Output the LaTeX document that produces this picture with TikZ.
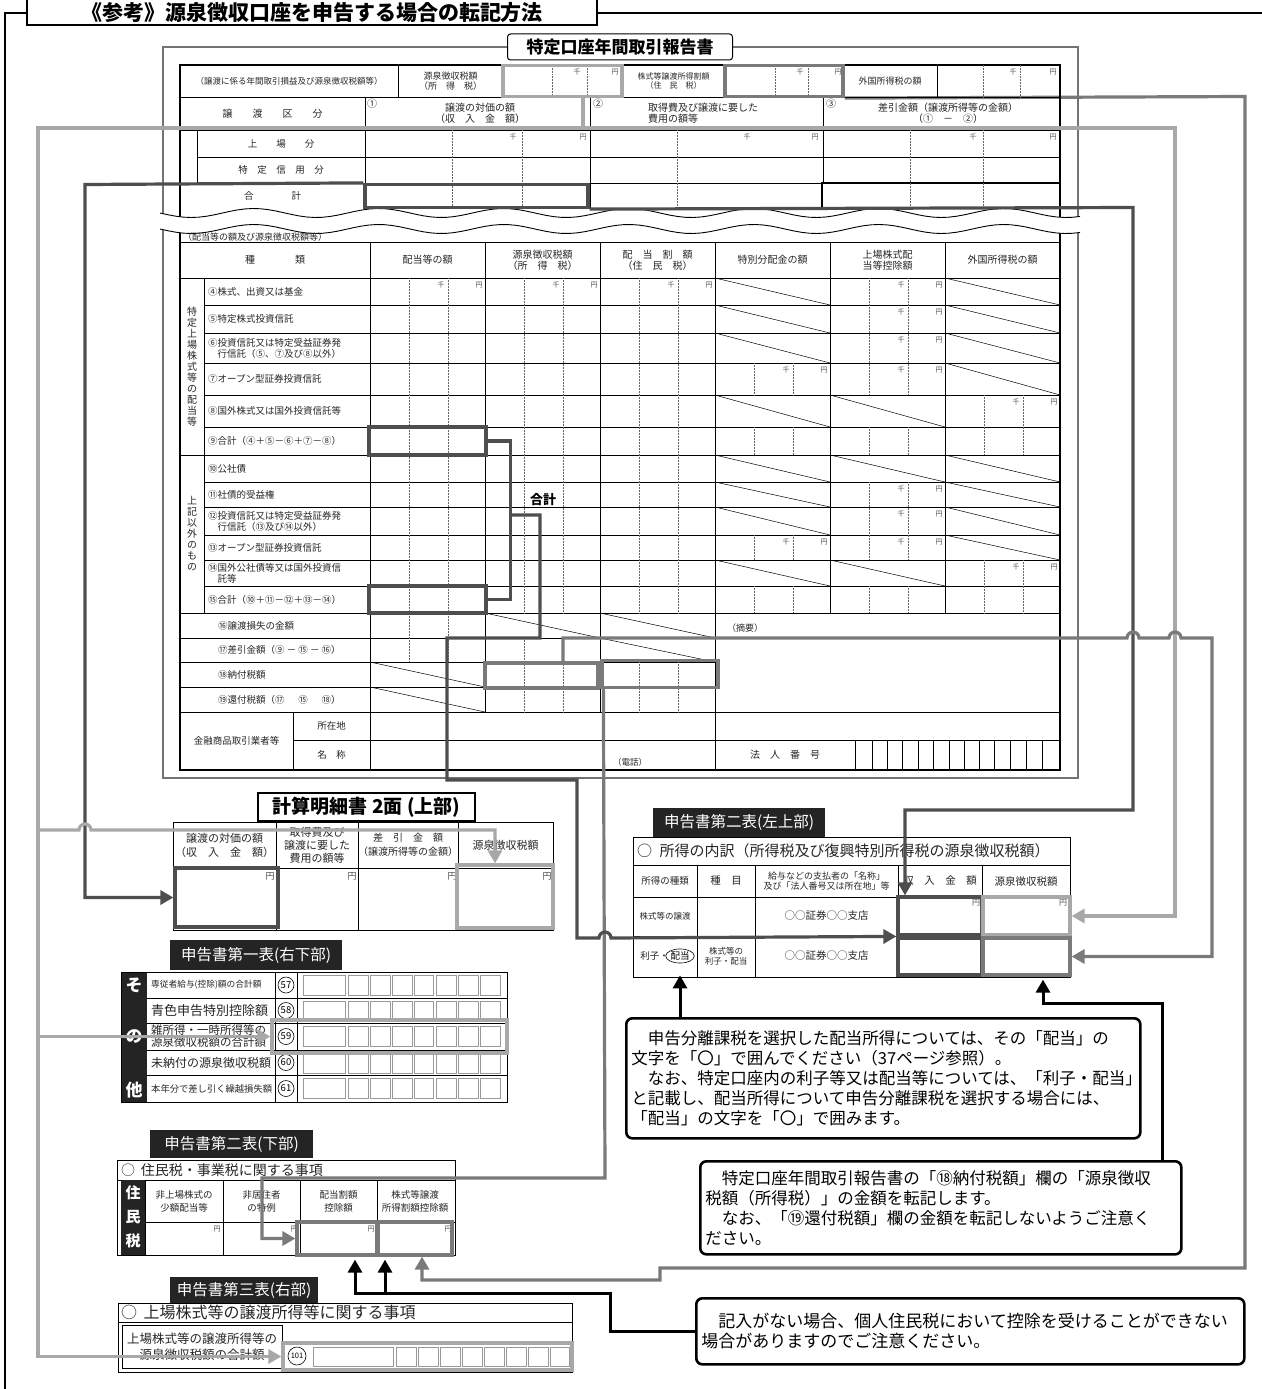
\documentclass[tikz,border=0pt]{standalone}
\usepackage{fontspec}
\setmainfont{Noto Sans CJK JP}
\usepackage{tikz}
\usetikzlibrary{arrows.meta, shapes.geometric, backgrounds}
\definecolor{darkhl}{RGB}{78,78,78}
\definecolor{midhl}{RGB}{122,122,122}
\definecolor{lighthl}{RGB}{168,168,168}
\definecolor{tabfill}{RGB}{36,36,36}
\newcommand{\jsz}[2]{\fontsize{#1}{#2}\selectfont}

\begin{document}
\begin{tikzpicture}[
    x=1pt, y=-1pt,
    font=\jsz{9.5}{11},
    formthick/.style={line width=1.6pt},
    formrule/.style={line width=0.9pt},
    thinrule/.style={line width=0.5pt},
    dotrule/.style={line width=0.5pt, densely dotted, black!60},
    hlbox/.style={draw=#1, line width=3.2pt, inner sep=0pt},
    conn/.style={draw=#1, line width=3.2pt},
    blackline/.style={draw=black, line width=3pt},
    arrowed/.style={-{Triangle[length=13pt, width=14pt]}},
    lbl/.style={inner sep=0pt, align=center, text=black!85},
    kenmark/.style={inner sep=0pt, font=\jsz{7}{7}, text=black!70},
    circnum/.style={circle, draw, line width=0.6pt, inner sep=0pt, minimum size=16pt, font=\jsz{9.5}{9.5}},
    tabbox/.style={fill=tabfill, text=white, inner sep=0pt, font=\jsz{15.5}{16}},
    digitbox/.style={draw=black!40, line width=0.8pt},
    notebox/.style={draw, line width=2.6pt, rounded corners=6pt, align=left, inner sep=5pt, font=\jsz{16.5}{20}}
  ]
  \useasboundingbox (0,0) rectangle (1261,1389);

  % page frame and heading
  \draw[line width=1.4pt] (27,-2) rectangle (597,25);
  \node[font=\bfseries\jsz{21}{21}, inner sep=0pt] (title) at (312,13) {《参考》源泉徴収口座を申告する場合の転記方法};
  \draw[line width=1.1pt] (5,1395) -- (5,13) -- (27,13);
  \draw[line width=1.1pt] (597,13) -- (1265,13);

  % report frame
  \draw[line width=1.1pt, black!55] (163,47) rectangle (1078,778);

  % upper block of the report
  \draw[formthick] (180,65) rectangle (1060,770);
  \foreach \yy in {97,130,183} \draw[formrule] (180,\yy) -- (1060,\yy);
  \draw[formrule] (197,157) -- (1060,157);
  \draw[formrule] (197,130) -- (197,183);
  \foreach \xx in {398,503,622,725,843,937} \draw[formrule] (\xx,65) -- (\xx,97);
  \foreach \xx in {365,590} \draw[formrule] (\xx,97) -- (\xx,208);
  \draw[formrule] (823,97) -- (823,183);
  \draw[formthick] (822,208) -- (822,183) -- (1060,183);
  \foreach \xx in {552,587,775,808,983,1020} \draw[dotrule] (\xx,65) -- (\xx,97);
  \foreach \xx in {452,522,677,910,983} \draw[dotrule] (\xx,130) -- (\xx,208);
  \foreach \kx/\ex/\ry in {577/615/72, 800/838/72, 1013/1053/72, 513/583/137, 747/815/137, 973/1053/137}
    {\node[kenmark] at (\kx,\ry) {千}; \node[kenmark] at (\ex,\ry) {円};}

  \node[lbl, font=\jsz{8.5}{9}] at (289,81) {（譲渡に係る年間取引損益及び源泉徴収税額等）};
  \node[lbl, font=\jsz{9}{10}] at (450.5,81) {源泉徴収税額\\（所　得　税）};
  \node[lbl, font=\jsz{8}{9}] at (673.5,81) {株式等譲渡所得割額\\（住　民　税）};
  \node[lbl, font=\jsz{9}{10}] at (890,81) {外国所得税の額};
  \node[lbl, font=\jsz{10}{10}] at (272.5,113.5) {譲　　渡　　区　　分};
  \node[lbl, font=\jsz{10}{10}] at (372,104) {①};
  \node[lbl, font=\jsz{10}{11}] at (480,113.5) {譲渡の対価の額\\（収　入　金　額）};
  \node[lbl, font=\jsz{10}{10}] at (598,104) {②};
  \node[lbl, font=\jsz{10}{11}, anchor=west, align=left] at (648,113.5) {取得費及び譲渡に要した\\費用の額等};
  \node[lbl, font=\jsz{10}{10}] at (831,104) {③};
  \node[lbl, font=\jsz{10}{11}] at (948,113.5) {差引金額（譲渡所得等の金額）\\（①　－　②）};
  \node[lbl] at (281,143.5) {上　　場　　分};
  \node[lbl] at (281,170) {特　定　信　用　分};
  \node[lbl] at (272.5,196) {合　　　　計};

  % break in the form
  \fill[white] plot[domain=160:1080, samples=120] (\x,{213+4.5*sin(2.88*(\x-160))})
    -- plot[domain=1080:160, samples=120] (\x,{229+4.5*sin(2.88*(\x-160))}) -- cycle;
  \draw[formrule] plot[domain=160:1080, samples=120] (\x,{213+4.5*sin(2.88*(\x-160))});
  \draw[formrule] plot[domain=160:1080, samples=120] (\x,{229+4.5*sin(2.88*(\x-160))});
  \node[lbl, anchor=west, font=\jsz{9}{9}] at (183,237) {（配当等の額及び源泉徴収税額等）};

  % lower block of the report
  \foreach \yy in {242,278,455,613,712} \draw[formrule] (180,\yy) -- (1060,\yy);
  \foreach \yy in {305,333,363,395,427,482,507,535,560,586} \draw[formrule] (204,\yy) -- (1060,\yy);
  \foreach \yy in {638,662,687} \draw[formrule] (180,\yy) -- (715,\yy);
  \draw[formrule] (293,740) -- (1060,740);
  \draw[formrule] (204,278) -- (204,613);
  \foreach \xx in {370,715} \draw[formrule] (\xx,242) -- (\xx,770);
  \foreach \xx in {485,600} \draw[formrule] (\xx,242) -- (\xx,712);
  \foreach \xx in {830,945} \draw[formrule] (\xx,242) -- (\xx,613);
  \draw[formrule] (293,712) -- (293,770);
  \foreach \xx in {855,872,933,994} \draw[formrule] (\xx,740) -- (\xx,770);
  \foreach \xx in {887,902,918,949,964,979,1010,1026,1042} \draw[thinrule] (\xx,740) -- (\xx,770);

  % value cells (digit guides)
  \foreach \cx/\ya/\yb in {370/278/662, 485/278/613, 485/638/712, 600/278/613, 600/662/712,
      715/363/395, 715/427/455, 715/535/560, 715/586/613,
      830/278/395, 830/427/455, 830/482/560, 830/586/613,
      945/395/455, 945/560/613}
    {\draw[dotrule] (\cx+39,\ya) -- (\cx+39,\yb);
     \draw[dotrule] (\cx+78,\ya) -- (\cx+78,\yb);}
  % struck cells
  \foreach \cx/\ya/\yb in {715/278/305, 715/305/333, 715/333/363, 715/395/427, 715/455/482, 715/482/507,
      715/507/535, 715/560/586, 830/395/427, 830/455/482, 830/560/586,
      945/278/305, 945/305/333, 945/333/363, 945/363/395, 945/455/482, 945/482/507, 945/507/535, 945/535/560,
      485/613/638, 600/613/638, 600/638/662, 370/662/687, 370/687/712}
    \draw[thinrule] (\cx,\ya) -- (\cx+115,\yb);
  \foreach \cx/\ry in {370/278, 485/278, 600/278, 715/363, 715/535, 830/278, 830/305, 830/333,
      830/363, 830/482, 830/507, 830/535, 945/395, 945/560}
    {\node[kenmark] at (\cx+71,\ry+7) {千};
     \node[kenmark] at (\cx+109,\ry+7) {円};}

  \node[lbl, font=\jsz{10}{12}] at (275,260) {種　　　　類};
  \node[lbl, font=\jsz{10}{12}] at (427.5,260) {配当等の額};
  \node[lbl, font=\jsz{10}{11}] at (542.5,260) {源泉徴収税額\\（所　得　税）};
  \node[lbl, font=\jsz{10}{11}] at (657.5,260) {配　当　割　額\\（住　民　税）};
  \node[lbl, font=\jsz{10}{12}] at (772.5,260) {特別分配金の額};
  \node[lbl, font=\jsz{10}{11}] at (887.5,260) {上場株式配\\当等控除額};
  \node[lbl, font=\jsz{10}{12}] at (1002.5,260) {外国所得税の額};
  \node[lbl, font=\jsz{10}{11}] at (192,366.5) {特\\定\\上\\場\\株\\式\\等\\の\\配\\当\\等};
  \node[lbl, font=\jsz{10}{11}] at (192,534) {上\\記\\以\\外\\の\\も\\の};
  \foreach \lab/\yy in {④株式、出資又は基金/291.5, ⑤特定株式投資信託/319, ⑦オープン型証券投資信託/379,
      ⑧国外株式又は国外投資信託等/411, ⑨合計（④＋⑤－⑥＋⑦－⑧）/441, ⑩公社債/468.5,
      ⑪社債的受益権/494.5, ⑬オープン型証券投資信託/547.5, ⑮合計（⑩＋⑪－⑫＋⑬－⑭）/599.5}
    \node[lbl, anchor=west] at (208,\yy) {\lab};
  \node[lbl, anchor=west, align=left] at (208,348) {⑥投資信託又は特定受益証券発\\　行信託（⑤、⑦及び⑧以外）};
  \node[lbl, anchor=west, align=left] at (208,521) {⑫投資信託又は特定受益証券発\\　行信託（⑬及び⑭以外）};
  \node[lbl, anchor=west, align=left] at (208,573) {⑭国外公社債等又は国外投資信\\　託等};
  \node[lbl, anchor=west] at (218,625.5) {⑯譲渡損失の金額};
  \node[lbl, anchor=west] at (218,650) {⑰差引金額（⑨ － ⑮ － ⑯）};
  \node[lbl, anchor=west] at (218,674.5) {⑱納付税額};
  \node[lbl, anchor=west] at (218,699.5) {⑲還付税額（⑰ 　 ⑮ 　 ⑱）};
  \node[lbl] at (236.5,741) {金融商品取引業者等};
  \node[lbl] at (331.5,726) {所在地};
  \node[lbl] at (331.5,755) {名　称};
  \node[lbl, font=\jsz{8.5}{9}] at (630,762) {（電話）};
  \node[lbl, font=\jsz{10}{10}] at (785,755) {法　人　番　号};
  \node[lbl, font=\jsz{9}{9}] at (745,628) {（摘要）};

  % report title
  \node[draw, line width=1pt, rounded corners=3pt, fill=white, minimum width=225pt, minimum height=26pt,
        font=\bfseries\jsz{17}{17}] (formtitle) at (620,47) {特定口座年間取引報告書};

  % marked cells in the report
  \node[hlbox=lighthl, minimum width=119pt, minimum height=31pt] (srcTax) at (562.5,81) {};
  \node[hlbox=midhl, minimum width=118pt, minimum height=31pt] (resTax) at (784,81) {};
  \node[hlbox=darkhl, minimum width=223pt, minimum height=23pt] (sumOne) at (476.5,196) {};
  \node[hlbox=darkhl, minimum width=117pt, minimum height=28pt] (nine) at (427.5,441) {};
  \node[hlbox=darkhl, minimum width=117pt, minimum height=27pt] (fifteen) at (427.5,599.5) {};
  \node[hlbox=midhl, minimum width=113pt, minimum height=25pt] (eighteenSrc) at (541.5,675.5) {};
  \node[hlbox=midhl, minimum width=116pt, minimum height=27pt] (eighteenRes) at (660,674) {};
  \node[font=\bfseries\jsz{13}{13}] (goukei) at (543,500) {合計};

  % keisan meisaisho
  \node[draw, line width=1.3pt, fill=white, minimum width=217pt, minimum height=28pt,
        font=\bfseries\jsz{19}{19}] (ktitle) at (366.5,807) {計算明細書 2面 (上部)};
  \draw[formrule] (173,822) rectangle (553,930);
  \draw[formrule] (173,868) -- (553,868);
  \foreach \xx in {276,358,458} \draw[formrule] (\xx,822) -- (\xx,930);
  \node[lbl, font=\jsz{11}{14}] at (224.5,845) {譲渡の対価の額\\（収　入　金　額）};
  \node[lbl, font=\jsz{11}{13}] at (317,845) {取得費及び\\譲渡に要した\\費用の額等};
  \node[lbl, font=\jsz{10}{14}] at (408,845) {差　引　金　額\\（譲渡所得等の金額）};
  \node[lbl, font=\jsz{11}{13}] at (505.5,845) {源泉徴収税額};
  \foreach \xx in {270,352,452,547} \node[kenmark, font=\jsz{9}{9}] at (\xx,876) {円};
  \node[hlbox=darkhl, minimum width=103pt, minimum height=59pt] (kcol1) at (226.5,897.5) {};
  \node[hlbox=lighthl, minimum width=96pt, minimum height=63pt] (kcol4) at (505,896.5) {};

  % shinkokusho daiippyo
  \node[tabbox, minimum width=172pt, minimum height=30pt] (tab1) at (256,955) {申告書第一表(右下部)};
  \fill[tabfill] (121,972) rectangle (147,1102);
  \draw[formrule] (121,972) rectangle (507,1102);
  \foreach \yy in {998,1023,1050,1075} \draw[formrule] (147,\yy) -- (507,\yy);
  \foreach \xx in {275,297} \draw[formrule] (\xx,972) -- (\xx,1102);
  \foreach \ch/\yy in {そ/985,の/1037,他/1090} \node[text=white, font=\bfseries\jsz{17}{17}] at (134,\yy) {\ch};
  \node[lbl, anchor=west, font=\jsz{8.7}{9}] at (151,985) {専従者給与(控除)額の合計額};
  \node[lbl, anchor=west, font=\jsz{13}{13}] at (151,1010.5) {青色申告特別控除額};
  \node[lbl, anchor=west, align=left, font=\jsz{11.5}{12}] at (151,1036.5) {雑所得・一時所得等の\\源泉徴収税額の合計額};
  \node[lbl, anchor=west, font=\jsz{12}{12}] at (151,1062.5) {未納付の源泉徴収税額};
  \node[lbl, anchor=west, font=\jsz{9.3}{10}] at (151,1088.5) {本年分で差し引く繰越損失額};
  \foreach \n/\yy in {57/985, 58/1010.5, 59/1036.5, 60/1062.5, 61/1088.5}
    \node[circnum] at (286,\yy) {\n};
  \foreach \ry in {972,998,1023,1050,1075}
    \foreach \bx/\bw in {303/42,348/20,370/20,392/20,414/19,436/20,458/20,480/20}
      \draw[digitbox] (\bx,\ry+3) rectangle ++(\bw,20);
  \node[hlbox=lighthl, minimum width=235pt, minimum height=33pt] (ichiBox) at (389.5,1036.5) {};

  % shinkokusho dainihyo, upper left
  \node[tabbox, minimum width=172pt, minimum height=29pt] (tab2a) at (739,822.5) {申告書第二表(左上部)};
  \draw[formrule] (633,837) rectangle (1070,977);
  \foreach \yy in {865,897,936} \draw[formrule] (633,\yy) -- (1070,\yy);
  \foreach \xx in {697,755,898,982} \draw[formrule] (\xx,865) -- (\xx,977);
  \node[lbl, anchor=west, font=\jsz{15}{15}] at (637,851) {○\hspace{0.5em}所得の内訳（所得税及び復興特別所得税の源泉徴収税額）};
  \node[lbl, font=\jsz{9.5}{10}] at (665,881) {所得の種類};
  \node[lbl, font=\jsz{10.5}{11}] at (726,881) {種　目};
  \node[lbl, font=\jsz{9}{10}] at (826.5,881) {給与などの支払者の「名称」\\及び「法人番号又は所在地」等};
  \node[lbl, font=\jsz{10.5}{11}] at (940,881) {収　入　金　額};
  \node[lbl, font=\jsz{10.5}{11}] at (1026,881) {源泉徴収税額};
  \node[lbl, font=\jsz{8.5}{9}] at (665,916) {株式等の譲渡};
  \node[lbl, font=\jsz{10.5}{11}] at (826.5,916) {○○証券○○支店};
  \node[lbl, font=\jsz{9.5}{10}, anchor=east] at (669,956) {利子・};
  \node[ellipse, draw, line width=0.6pt, inner sep=0.6pt, font=\jsz{9.5}{10}] (haitoCirc) at (680,956) {配当};
  \node[lbl, font=\jsz{8.5}{10}] at (726,956) {株式等の\\利子・配当};
  \node[lbl, font=\jsz{10.5}{11}] at (826.5,956) {○○証券○○支店};
  \node[kenmark, font=\jsz{8}{8}] at (976,903) {円};
  \node[kenmark, font=\jsz{8}{8}] at (1063,903) {円};
  \node[hlbox=darkhl, minimum width=84pt, minimum height=38pt] (inc1) at (940,916) {};
  \node[hlbox=darkhl, minimum width=84pt, minimum height=37pt] (inc2) at (940,956.5) {};
  \node[hlbox=lighthl, minimum width=87pt, minimum height=38pt] (src1) at (1026.5,916) {};
  \node[hlbox=midhl, minimum width=87pt, minimum height=37pt] (src2) at (1026.5,956.5) {};

  % shinkokusho dainihyo, lower part
  \node[tabbox, minimum width=163pt, minimum height=28pt] (tab2b) at (231.5,1144) {申告書第二表(下部)};
  \draw[formrule] (117,1160) rectangle (455,1255);
  \draw[formrule] (117,1180) -- (455,1180);
  \draw[formrule] (145,1222) -- (455,1222);
  \fill[tabfill] (121,1180) rectangle (145,1255);
  \foreach \xx in {145,223,300,377} \draw[formrule] (\xx,1180) -- (\xx,1255);
  \foreach \ch/\yy in {住/1193,民/1217,税/1241} \node[text=white, font=\bfseries\jsz{15}{15}] at (133,\yy) {\ch};
  \node[lbl, anchor=west, font=\jsz{14}{14}] at (121,1170) {○\hspace{0.4em}住民税・事業税に関する事項};
  \node[lbl, font=\jsz{9.5}{13}] at (184,1201) {非上場株式の\\少額配当等};
  \node[lbl, font=\jsz{9.5}{13}] at (261.5,1201) {非居住者\\の特例};
  \node[lbl, font=\jsz{9.5}{13}] at (338.5,1201) {配当割額\\控除額};
  \node[lbl, font=\jsz{9.5}{13}] at (415,1201) {株式等譲渡\\所得割額控除額};
  \foreach \xx in {217,294,371,448} \node[kenmark] at (\xx,1229) {円};
  \node[hlbox=midhl, minimum width=80pt, minimum height=33pt] (haitoKojo) at (337,1238.5) {};
  \node[hlbox=midhl, minimum width=74pt, minimum height=33pt] (kabuKojo) at (415,1238.5) {};

  % shinkokusho daisanhyo
  \node[tabbox, minimum width=148pt, minimum height=26pt] (tab3) at (244,1290) {申告書第三表(右部)};
  \draw[formrule] (118,1303) rectangle (572,1372);
  \draw[formrule] (118,1322) -- (572,1322);
  \draw[formrule] (122,1325) rectangle (282,1368);
  \node[lbl, anchor=west, font=\jsz{16}{16}] at (121,1312.5) {○\hspace{0.4em}上場株式等の譲渡所得等に関する事項};
  \node[lbl, font=\jsz{12.5}{16}] at (202,1346.5) {上場株式等の譲渡所得等の\\源泉徴収税額の合計額};
  \node[circnum, minimum size=18pt, font=\jsz{7.5}{7.5}] at (297,1356) {101};
  \foreach \bx/\bw in {313/80,396/20,418/20,440/20,462/20,484/20,506/20,528/20,550/19}
    \draw[digitbox] (\bx,1347) rectangle ++(\bw,19);
  \node[hlbox=lighthl, minimum width=289pt, minimum height=27pt] (sanBox) at (427.5,1356.5) {};

  % notes
  \node[notebox, anchor=north west, text width=504pt, minimum height=120pt] (note1) at (625,1017)
  {　申告分離課税を選択した配当所得については、その「配当」の\\
   文字を「〇」で囲んでください（37ページ参照）。\\
   　なお、特定口座内の利子等又は配当等については、「利子・配当」\\
   と記載し、配当所得について申告分離課税を選択する場合には、\\
   「配当」の文字を「〇」で囲みます。};
  \node[notebox, anchor=north west, text width=471pt, minimum height=93pt] (note2) at (699,1160)
  {　特定口座年間取引報告書の「⑱納付税額」欄の「源泉徴収\\
   税額（所得税）」の金額を転記します。\\
   　なお、「⑲還付税額」欄の金額を転記しないようご注意く\\
   ださい。};
  \node[notebox, anchor=north west, text width=538pt, minimum height=66pt, font=\jsz{17}{20}] (note3) at (695,1297)
  {　記入がない場合、個人住民税において控除を受けることができない\\
   場合がありますのでご注意ください。};

  % transfer lines
  \begin{scope}[on background layer]
    \draw[conn=midhl, arrowed] (resTax.south east) -- (1245,96.5) -- (1245,1268) -- (660,1268)
      -- (660,1280) -- (422,1280) -- ([xshift=7pt]kabuKojo.south);
  \end{scope}
  \draw[conn=midhl, arrowed] ([xshift=3pt]eighteenRes.south west) -- (605,1178) -- (262,1178) |- (haitoKojo.west);
  \draw[conn=darkhl, arrowed] (sumOne.north west) -- (85,184.5) |- (kcol1.west);
  \draw[conn=darkhl, arrowed] (sumOne.south east) -- (1133,207.5) |- (905,810) -- ([xshift=-35pt]inc1.north);
  \coordinate (lspine) at (38,128);
  \draw[conn=lighthl, arrowed] ([xshift=20.5pt]srcTax.south) |- (lspine) |- (sanBox.west);
  \draw[conn=lighthl, arrowed] (583,128) -- (1175,128) |- (src1.east);
  \draw[conn=midhl, arrowed] ([xshift=21.5pt]eighteenSrc.north) -- (563,638) -- (1127,638)
    arc[start angle=180, end angle=360, radius=6] -- (1169,638)
    arc[start angle=180, end angle=360, radius=6] -- (1212,638) |- (src2.east);
  \draw[conn=darkhl] (nine.east) -- ++(23,0) |- (fifteen.east);
  \draw[conn=darkhl, arrowed] (509,515) -- (540,515) -- (540,638) -- (447,638) -- (447,780) -- (577,780)
    -- (577,938) -- (599,938) arc[start angle=180, end angle=360, radius=6] -- (inc2.north west);
  \draw[conn=lighthl, arrowed] (lspine |- ichiBox.west) -- (ichiBox.west);
  \draw[conn=lighthl, arrowed] (38,830) -- (79,830) arc[start angle=180, end angle=360, radius=6]
    -- (495,830) -- ([xshift=-10pt]kcol4.north);
  \draw[blackline, arrowed] (haitoCirc.south |- note1.north) -- ([yshift=-12pt]haitoCirc.south);
  \draw[blackline, arrowed] ([xshift=-20pt]note2.north east) |- (1043,1003) -- ([xshift=16.5pt, yshift=-3pt]src2.south);
  \draw[blackline, arrowed] (note3.west) -| (610,1293) -- (355,1293) -- ([xshift=18pt, yshift=-3pt]haitoKojo.south);
  \draw[blackline, arrowed] (385,1293) -- ([xshift=-30pt, yshift=-3pt]kabuKojo.south);
\end{tikzpicture}
\end{document}
